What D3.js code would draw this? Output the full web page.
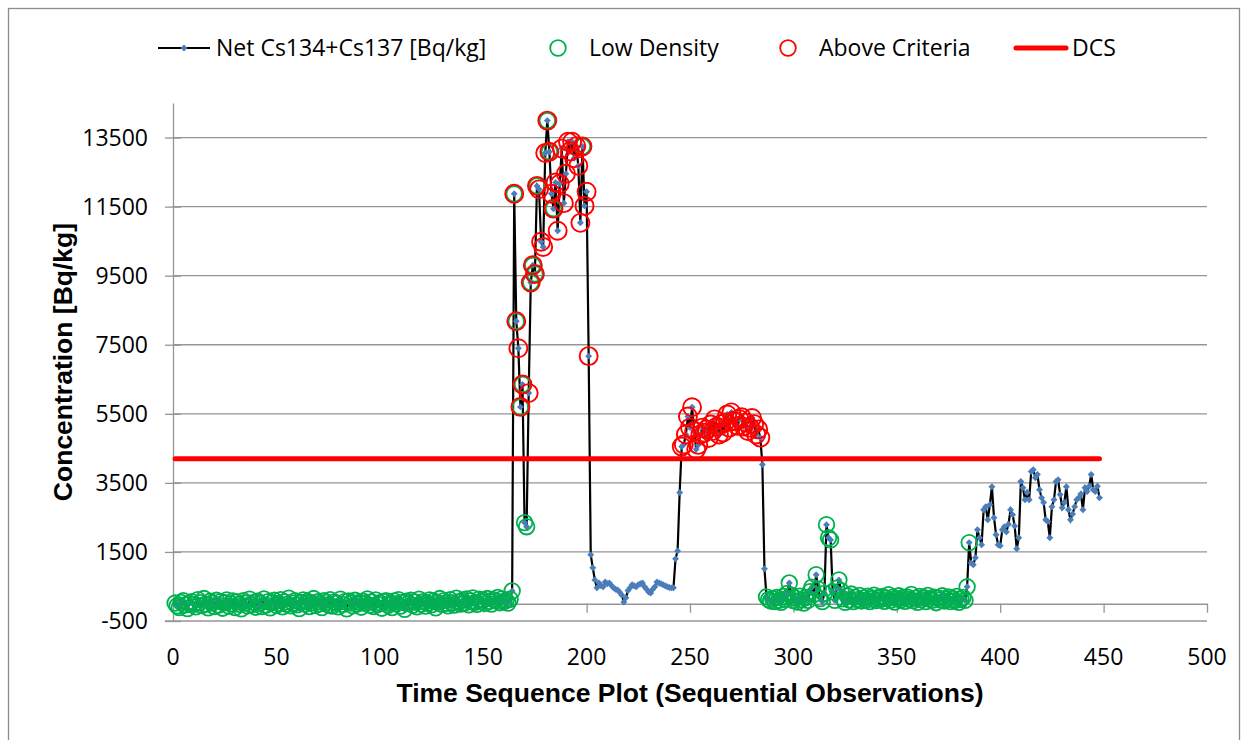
<html>
<head>
  <meta charset="utf-8"/>
  <title>Time sequence</title>
  <style>
    body { margin: 0; background: #fff; }
    svg { display: block; }
    .tick-label { font-family: "Open Sans", Lato, sans-serif; font-size: 23px; fill: #000; }
    .legend-label { font-family: "Open Sans", Lato, sans-serif; font-size: 23px; fill: #000; }
    .axis-title { font-family: "Liberation Sans", Arial, sans-serif; font-size: 26.5px; font-weight: bold; fill: #000; }
  </style>
</head>
<body>
  <div id="chart"></div>

  <script src="https://cdn.jsdelivr.net/npm/d3@7"></script>
  <script>

  // observations 1..163, all near zero
  var baseline = [
    20, -60, -110, 40, 90, -30, -140, 10, 60, -20,
    -90, 120, 30, -50, 150, -10, -120, 70, 20, -80,
    100, -40, 60, -130, 30, 110, -70, 0, 80, -110,
    50, -20, -150, 90, 20, -60, 130, -30, 40, -100,
    70, 10, -80, 140, -40, 60, -120, 30, 100, -50,
    10, 120, -90, 50, -20, 160, -60, 20, 90, -30,
    -140, 40, 110, -10, 70, -80, 30, 150, -50, 60,
    0, -110, 90, 40, -30, 120, -70, 50, 10, -90,
    130, -20, 60, -150, 80, 20, -60, 100, -10, 40,
    -100, 70, 10, 140, -40, 50, -80, 110, -20, 30,
    -130, 60, 90, -50, 20, -110, 80, 0, 120, -70,
    40, -160, 70, 10, 100, -40, 50, -90, 130, -10,
    60, -70, 20, 110, -30, 80, -120, 40, 150, -20,
    90, 10, -60, 120, 30, -40, 160, 50, -10, 100,
    20, 140, -30, 80, 170, 40, -20, 130, 60, 110,
    10, 150, 70, -10, 120, 90, 180, 30, 140, 60,
    100, 20, 130
  ];

  // observations 164..202, the first hot zone
  var spike = [
    370, 11870, 8180, 7400, 5700, 6350, 2350, 2230, 6100, 9300,
    9800, 9550, 12100, 12000, 10480, 10330, 13050, 13990, 13090, 11870,
    11440, 12200, 10800, 12160, 13180, 11600, 12450, 13380, 13100, 13380,
    12900, 13250, 12680, 11030, 13240, 11520, 11930, 7170, 1420
  ];

  // observations 203..245
  var lowRun = [
    1040, 690, 460, 600, 520, 490, 630, 580, 600, 530,
    460, 420, 400, 330, 255, 50, 170, 380, 460, 550,
    520, 490, 550, 580, 600, 490, 420, 340, 310, 420,
    490, 630, 600, 580, 550, 520, 490, 470, 460, 460,
    1300, 1530, 3220
  ];

  // observations 246..286
  var plateau = [
    4550, 4610, 4900, 5420, 5100, 5690, 5000, 4470, 4600, 4900,
    5100, 4950, 5050, 4800, 5190, 5000, 5340, 5130, 4900, 5200,
    4960, 5250, 5480, 5100, 5540, 5300, 5280, 5150, 5340, 5400,
    5130, 5250, 5000, 5100, 5380, 5200, 4900, 5050, 4810, 4030,
    1010
  ];

  // observations 287..384
  var secondLow = [
    200, 120, 80, 150, 60, 180, 100, 40, 210, 130,
    300, 600, 250, 90, 160, 50, 220, 120, 20, 180,
    100, 350, 480, 270, 840, 420, 150, 60, 300, 2290,
    1910, 1850, 350, 100, 450, 690, 380, 140, 40, 230,
    110, 280, 60, 190, 120, 240, 80, 170, 100, 220,
    60, 150, 250, 90, 180, 120, 210, 70, 160, 260,
    100, 190, 50, 140, 230, 110, 180, 70, 200, 130,
    270, 90, 160, 40, 210, 120, 180, 60, 240, 150,
    100, 190, 30, 170, 110, 230, 80, 140, 200, 60,
    150, 90, 210, 40, 130, 180, 100, 490
  ];

  // observations 385..448
  var tail = [
    1770, 1180, 1130, 1330, 2140, 1910, 1710, 2720, 2810, 2430,
    2870, 3390, 2490, 2000, 1710, 1680, 2140, 2230, 2080, 2300,
    2720, 2580, 2250, 1590, 1910, 3540, 3360, 3010, 3220, 3010,
    3830, 3880, 3650, 3740, 3300, 3070, 2930, 2430, 2380, 1910,
    2810, 3010, 3540, 3590, 3160, 2780, 2930, 3390, 2720, 2430,
    2600, 2810, 3010, 3070, 3180, 2720, 3360, 3250, 3400, 3740,
    3300, 3250, 3400, 3070
  ];

  // observations flagged as low density (besides the two long runs below)
  var lowDensityExtra = [164, 165, 166, 168, 169, 170, 171, 173, 174, 175, 176, 181, 182, 184, 198, 385];
  var lowDensityRuns = [[1, 163], [287, 384]];

  var dcs = 4200;

  var xTicks = [0, 50, 100, 150, 200, 250, 300, 350, 400, 450, 500];
  var yTicks = [-500, 1500, 3500, 5500, 7500, 9500, 11500, 13500];

  var legendLabels = ["Net Cs134+Cs137 [Bq/kg]", "Low Density", "Above Criteria", "DCS"];

  var values = baseline.concat(spike, lowRun, plateau, secondLow, tail);
  var data = values.map(function(v, i){ return {obs: i + 1, v: v}; });

  function isLow(obs){
    for (var k = 0; k < lowDensityRuns.length; k++){
      if (obs >= lowDensityRuns[k][0] && obs <= lowDensityRuns[k][1]) return true;
    }
    return lowDensityExtra.indexOf(obs) >= 0;
  }

  var lowData = data.filter(function(d){ return isLow(d.obs); });
  var highData = data.filter(function(d){ return d.v > dcs; });

  var W = 1247, H = 740;
  var x = d3.scaleLinear().domain([0, 500]).range([173, 1207]);
  var y = d3.scaleLinear().domain([-500, 14500]).range([621, 103]);

  var svg = d3.select("#chart").append("svg")
    .attr("width", W)
    .attr("height", H);

  // outer frame
  svg.append("rect")
    .attr("x", 8.5).attr("y", 8.5)
    .attr("width", 1231).attr("height", 780)
    .attr("fill", "none")
    .attr("stroke", "#8c8c8c")
    .attr("stroke-width", 1.3);

  // gridlines
  svg.append("g").selectAll("line")
    .data(yTicks)
    .enter().append("line")
    .attr("x1", function(d){ return d == -500 ? 165 : x(0); })
    .attr("x2", x(500))
    .attr("y1", function(d){ return y(d); })
    .attr("y2", function(d){ return y(d); })
    .attr("stroke", "#959595")
    .attr("stroke-width", 1.3);

  // y axis, ticks crossing the line
  var yAxis = svg.append("g")
    .attr("transform", "translate(" + x(0) + ",0)")
    .call(d3.axisLeft(y).tickValues(yTicks).tickSizeOuter(0).tickFormat(""));
  yAxis.selectAll(".tick line").attr("x1", -8).attr("x2", 8).attr("stroke", "#959595").attr("stroke-width", 1.3);
  yAxis.select(".domain").attr("stroke", "#959595").attr("stroke-width", 1.3);

  svg.append("g").selectAll("text")
    .data(yTicks)
    .enter().append("text")
    .attr("class", "tick-label")
    .attr("x", 148)
    .attr("y", function(d){ return y(d); })
    .attr("dy", "0.36em")
    .attr("text-anchor", "end")
    .text(function(d){ return d; });

  // x axis sits at zero
  var xAxis = svg.append("g")
    .attr("transform", "translate(0," + y(0) + ")")
    .call(d3.axisBottom(x).tickValues(xTicks).tickSizeInner(9).tickSizeOuter(0).tickFormat(""));
  xAxis.selectAll(".tick line").attr("stroke", "#959595").attr("stroke-width", 1.3);
  xAxis.select(".domain").attr("stroke", "#959595").attr("stroke-width", 1.3);

  svg.append("g").selectAll("text")
    .data(xTicks)
    .enter().append("text")
    .attr("class", "tick-label")
    .attr("x", function(d){ return x(d); })
    .attr("y", 657)
    .attr("dy", "0.36em")
    .attr("text-anchor", "middle")
    .text(function(d){ return d; });

  // axis titles
  svg.append("text")
    .attr("class", "axis-title")
    .attr("x", 690)
    .attr("y", 702)
    .attr("text-anchor", "middle")
    .text("Time Sequence Plot (Sequential Observations)");

  svg.append("text")
    .attr("class", "axis-title")
    .attr("transform", "translate(72,362) rotate(-90)")
    .attr("text-anchor", "middle")
    .text("Concentration [Bq/kg]");

  // main series
  var line = d3.line()
    .x(function(d){ return x(d.obs); })
    .y(function(d){ return y(d.v); });

  svg.append("path")
    .datum(data)
    .attr("d", line)
    .attr("fill", "none")
    .attr("stroke", "#000")
    .attr("stroke-width", 2.2);

  var diamond = d3.symbol().type(d3.symbolSquare).size(24);

  svg.append("g").selectAll("path")
    .data(data)
    .enter().append("path")
    .attr("d", diamond)
    .attr("transform", function(d){ return "translate(" + x(d.obs) + "," + y(d.v) + ") rotate(45)"; })
    .attr("fill", "#4a7ebb");

  // low density circles
  svg.append("g").selectAll("circle")
    .data(lowData)
    .enter().append("circle")
    .attr("cx", function(d){ return x(d.obs); })
    .attr("cy", function(d){ return y(d.v); })
    .attr("r", 7.8)
    .attr("fill", "none")
    .attr("stroke", "#00b050")
    .attr("stroke-width", 1.8);

  // above criteria circles
  svg.append("g").selectAll("circle")
    .data(highData)
    .enter().append("circle")
    .attr("cx", function(d){ return x(d.obs); })
    .attr("cy", function(d){ return y(d.v); })
    .attr("r", 9)
    .attr("fill", "none")
    .attr("stroke", "#ff0000")
    .attr("stroke-width", 1.9);

  // DCS level
  svg.append("path")
    .datum([data[0], data[data.length - 1]])
    .attr("d", d3.line().x(function(d){ return x(d.obs); }).y(function(){ return y(dcs); }))
    .attr("stroke", "#ff0000")
    .attr("stroke-width", 5)
    .attr("stroke-linecap", "round");

  // legend
  var lg = svg.append("g");
  var ly = 48;

  lg.append("line")
    .attr("x1", 158).attr("x2", 210).attr("y1", ly).attr("y2", ly)
    .attr("stroke", "#000").attr("stroke-width", 2);
  lg.append("path")
    .attr("d", diamond)
    .attr("transform", "translate(184," + ly + ") rotate(45)")
    .attr("fill", "#4a7ebb");
  lg.append("circle")
    .attr("cx", 558).attr("cy", ly).attr("r", 7.8)
    .attr("fill", "none").attr("stroke", "#00b050").attr("stroke-width", 1.8);
  lg.append("circle")
    .attr("cx", 788).attr("cy", ly).attr("r", 7.8)
    .attr("fill", "none").attr("stroke", "#ff0000").attr("stroke-width", 1.8);
  lg.append("line")
    .attr("x1", 1016).attr("x2", 1066).attr("y1", ly).attr("y2", ly)
    .attr("stroke", "#ff0000").attr("stroke-width", 5).attr("stroke-linecap", "round");

  var legendX = [216, 589, 819, 1072];
  lg.selectAll("text.lbl")
    .data(legendLabels)
    .enter().append("text")
    .attr("class", "legend-label lbl")
    .attr("x", function(d, i){ return legendX[i]; })
    .attr("y", ly)
    .attr("dy", "0.36em")
    .text(function(d){ return d; });

  </script>
</body>
</html>
